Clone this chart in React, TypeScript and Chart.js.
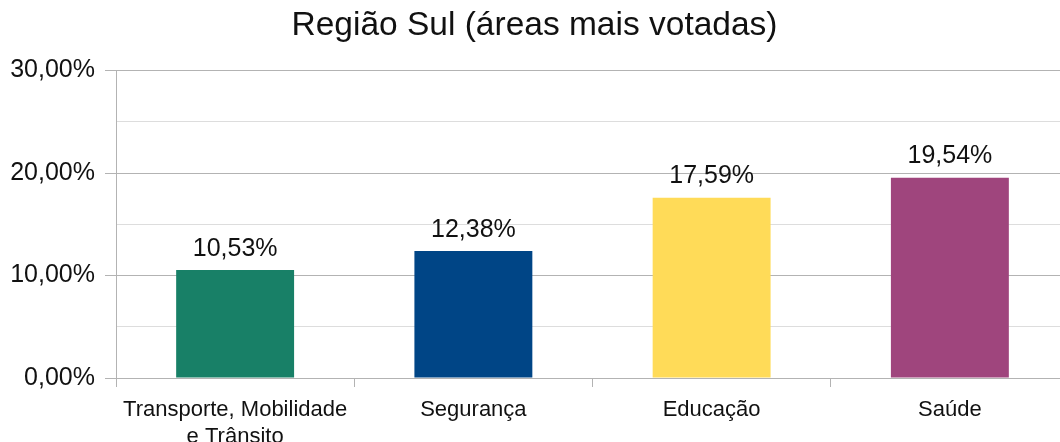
import React, { useEffect, useRef } from "react";
import { Chart, registerables } from "chart.js";

Chart.register(...registerables);

const titleText = "Região Sul (áreas mais votadas)";
const categories: (string | string[])[] = [
  ["Transporte, Mobilidade", "e Trânsito"],
  "Segurança",
  "Educação",
  "Saúde",
];
const values = [10.53, 12.38, 17.59, 19.54];
const barColors = ["#188067", "#004586", "#ffdb58", "#9f457d"];
const yMin = 0;
const yMax = 30;
const yStep = 5;
const yLabelStep = 10;

const FONT = "'Liberation Sans', Arial, sans-serif";

const fmt = (v: number) => v.toFixed(2).replace(".", ",") + "%";

const dataLabelPlugin = {
  id: "dataLabels",
  afterDatasetsDraw(chart: any) {
    const ctx = chart.ctx;
    const meta = chart.getDatasetMeta(0);
    ctx.save();
    ctx.font = `25px ${FONT}`;
    ctx.fillStyle = "#111";
    ctx.textAlign = "center";
    ctx.textBaseline = "alphabetic";
    meta.data.forEach((bar: any, i: number) => {
      ctx.fillText(fmt(values[i]), bar.x, bar.y - 14.5);
    });
    ctx.restore();
  },
};

export default function App() {
  const ref = useRef<HTMLCanvasElement | null>(null);
  useEffect(() => {
    if (!ref.current) return;
    const chart = new Chart(ref.current, {
      type: "bar",
      data: {
        labels: categories,
        datasets: [
          {
            data: values,
            backgroundColor: barColors,
            borderWidth: 0,
            barPercentage: 0.495,
            categoryPercentage: 1,
          },
        ],
      },
      options: {
        responsive: false,
        animation: false,
        devicePixelRatio: 1,
        layout: { padding: { left: 0, right: 7, top: 0, bottom: 0 } },
        plugins: {
          legend: { display: false },
          tooltip: { enabled: false },
          title: {
            display: true,
            text: titleText,
            color: "#111",
            font: { family: FONT, size: 33.5, weight: "normal" },
            padding: { top: 6, bottom: 24.3 },
          },
        },
        scales: {
          x: {
            grid: {
              display: true,
              drawOnChartArea: false,
              offset: true,
              tickLength: 9,
              color: "#b3b3b3",
              tickColor: "#b3b3b3",
            },
            border: { display: true, color: "#b3b3b3" },
            ticks: {
              color: "#111",
              font: { family: FONT, size: 22 },
              padding: 10,
              maxRotation: 0,
              autoSkip: false,
            },
            afterFit: (s: any) => {
              s.height = 64;
            },
          },
          y: {
            min: yMin,
            max: yMax,
            grid: {
              color: (c: any) =>
                c.tick && c.tick.value % yLabelStep === 0 ? "#b3b3b3" : "#dddddd",
              tickColor: (c: any) =>
                c.tick && c.tick.value % yLabelStep === 0 ? "#b3b3b3" : "rgba(0,0,0,0)",
              tickLength: 11,
            },
            border: { display: true, color: "#b3b3b3" },
            ticks: {
              stepSize: yStep,
              autoSkip: false,
              padding: 10,
              color: "#111",
              font: { family: FONT, size: 25 },
              callback: (v: any) => (Number(v) % yLabelStep === 0 ? fmt(Number(v)) : ""),
            },
            afterFit: (s: any) => {
              s.width = 116;
            },
          },
        },
      },
      plugins: [dataLabelPlugin],
    });
    return () => chart.destroy();
  }, []);
  return (
    <div
      style={{
        position: "fixed",
        left: 0,
        top: 0,
        width: 1060,
        height: 442,
        overflow: "hidden",
        background: "#fff",
      }}
    >
      <canvas ref={ref} width={1076} height={442} style={{ display: "block" }} />
    </div>
  );
}
